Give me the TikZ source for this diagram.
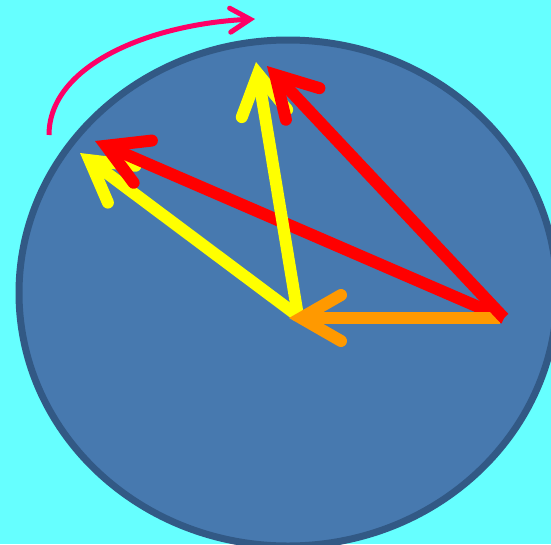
\documentclass[tikz,border=0pt]{standalone}
\usetikzlibrary{arrows.meta}

\definecolor{fundo}{HTML}{66FFFF}
\definecolor{disco}{HTML}{4779AF}
\definecolor{borda}{HTML}{325985}
\definecolor{amarelo}{HTML}{FFFF00}
\definecolor{vermelho}{HTML}{FF0000}
\definecolor{laranja}{HTML}{FF9900}
\definecolor{rosa}{HTML}{FF0066}

\begin{document}
\begin{tikzpicture}[
    x=1pt, y=-1pt,
    vetor/.style={line width=12pt, -{Straight Barb[length=40pt, width=46pt, line cap=round, line join=miter]}},
    giro/.style={line width=5pt, draw=rosa, -{Straight Barb[length=20pt, width=24pt, line cap=round, line join=miter]}}
]
\useasboundingbox (0,0) rectangle (551,544);
\clip (0,0) rectangle (551,544);
\fill[fundo] (0,0) rectangle (551,544);

% disco
\coordinate (centro) at (288,293);
\draw[borda, fill=disco, line width=7pt] (centro) ellipse [x radius=269, y radius=253];

% pontos dos vetores
\coordinate (O) at (298,316);
\coordinate (Ot) at (289,318);
\coordinate (P) at (500,318);
\coordinate (Q) at (504,318);
\coordinate (ya) at (256,62);
\coordinate (yb) at (80,153);
\coordinate (ra) at (267,66);
\coordinate (rb) at (95,141);

% seta de rotacao
\coordinate (ini) at (49,135);
\coordinate (fim) at (255,19);
\draw[giro] (ini) .. controls (49,65) and (150,24) .. (fim);

% vetores
\draw[vetor, amarelo] (O) -- (yb);
\draw[vetor, vermelho] (Q) -- (rb);
\draw[vetor, amarelo] (O) -- (ya);
\draw[vetor, laranja] (P) -- (Ot);
\draw[vetor, vermelho] (Q) -- (ra);

\end{tikzpicture}
\end{document}
